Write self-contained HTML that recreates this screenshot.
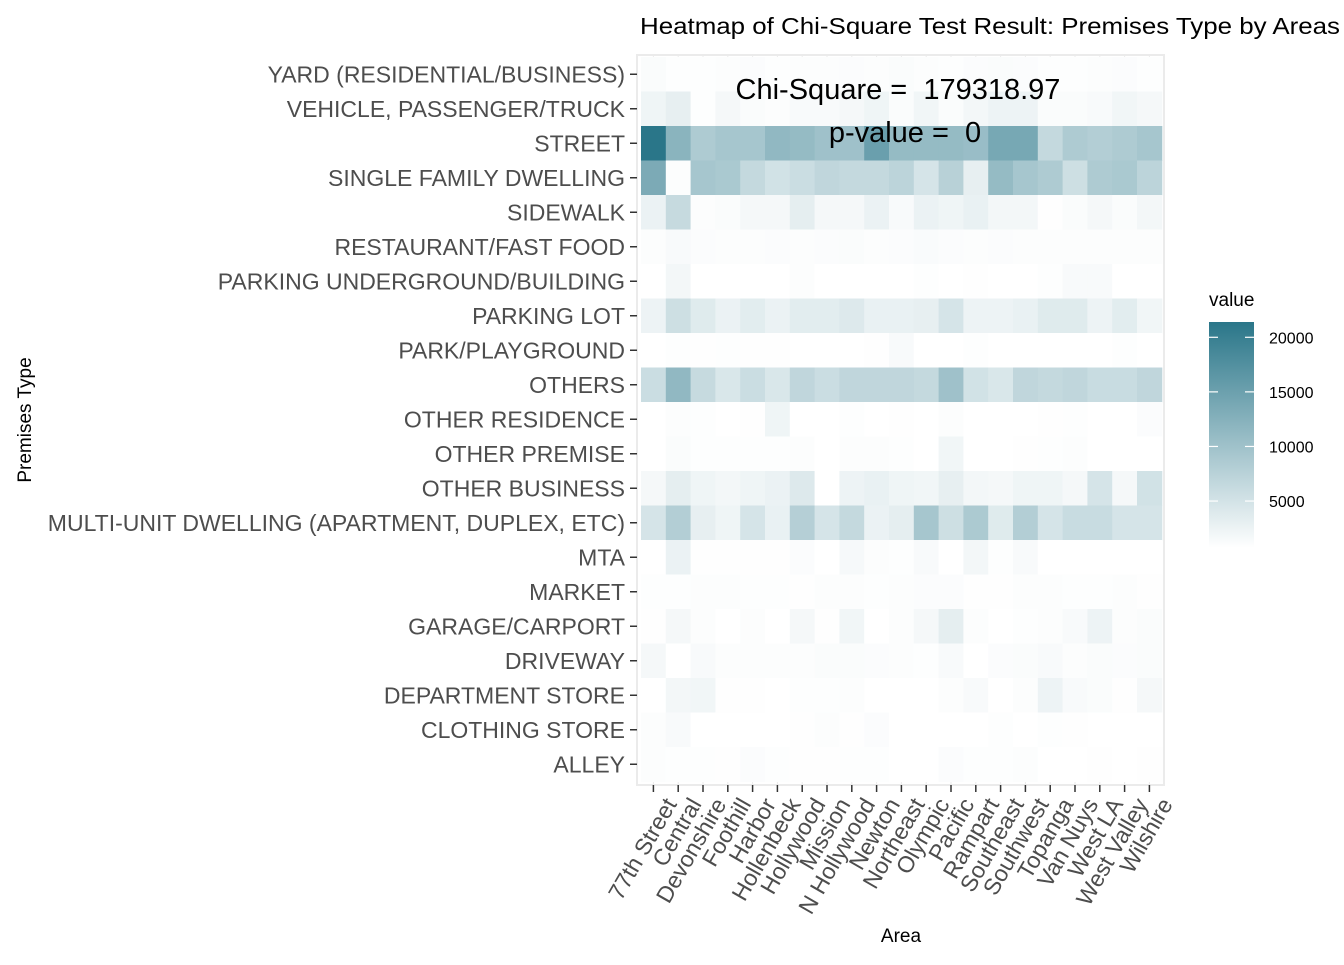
<!DOCTYPE html>
<html><head><meta charset="utf-8"><style>
body{margin:0;background:#fff;}
svg text{font-family:"Liberation Sans",Arial,sans-serif;white-space:pre;}
</style></head><body>
<svg id="chart" width="1344" height="960" viewBox="0 0 1344 960" xmlns="http://www.w3.org/2000/svg">
<defs><linearGradient id="lg" x1="0" y1="1" x2="0" y2="0"><stop offset="0" stop-color="#ffffff"/><stop offset="1" stop-color="#2a7689"/></linearGradient></defs>
<text x="640" y="34" font-size="23.5" fill="#000" textLength="700" lengthAdjust="spacingAndGlyphs">Heatmap of Chi-Square Test Result: Premises Type by Areas</text>
<rect x="637" y="55" width="527" height="730" fill="#fff" stroke="#ebebeb" stroke-width="2"/>
<g id="grid"></g><g id="cells"></g><g id="yaxis"></g><g id="xaxis"></g>
<text x="898" y="99" font-size="29" text-anchor="middle" fill="#000">Chi-Square =&#160; 179318.97</text>
<text x="905" y="142" font-size="29" text-anchor="middle" fill="#000">p-value =&#160; 0</text>
<text x="901" y="942" font-size="19" text-anchor="middle" fill="#000">Area</text>
<text transform="translate(31,420) rotate(-90)" font-size="19" text-anchor="middle" fill="#000">Premises Type</text>
<g>
<text x="1209" y="306" font-size="19" fill="#000">value</text>
<rect x="1209" y="322" width="45" height="226" fill="url(#lg)"/>
<g id="legticks"></g>
</g>
</svg>
<script>
const areas=["77th Street","Central","Devonshire","Foothill","Harbor","Hollenbeck","Hollywood","Mission","N Hollywood","Newton","Northeast","Olympic","Pacific","Rampart","Southeast","Southwest","Topanga","Van Nuys","West LA","West Valley","Wilshire"];
const premises=["YARD (RESIDENTIAL/BUSINESS)","VEHICLE, PASSENGER/TRUCK","STREET","SINGLE FAMILY DWELLING","SIDEWALK","RESTAURANT/FAST FOOD","PARKING UNDERGROUND/BUILDING","PARKING LOT","PARK/PLAYGROUND","OTHERS","OTHER RESIDENCE","OTHER PREMISE","OTHER BUSINESS","MULTI-UNIT DWELLING (APARTMENT, DUPLEX, ETC)","MTA","MARKET","GARAGE/CARPORT","DRIVEWAY","DEPARTMENT STORE","CLOTHING STORE","ALLEY"];
const legendTicks=[5000,10000,15000,20000];
// values in thousands
const v0=[0.6,0.3,0.3,0.4,0.5,0.3,0.4,0.4,0.5,0.4,0.6,0.4,0.3,0.5,0.6,0.5,0.3,0.3,0.4,0.5,0.3];
const v1=[1.7,2.5,0.3,1.1,0.6,0.4,0.8,0.8,1.1,1.7,0.6,1.5,0.6,1.3,1.9,1.9,0.6,0.6,0.8,1.5,1.1];
const v2=[21,11.6,8,8.8,8.8,10.9,10.5,9.5,9.5,14.7,10.5,10.5,10.5,10.1,13.4,13.4,5.9,8,7.6,8,8.8];
const v3=[13,0.4,8.8,8.4,5.9,4.6,5.3,6.3,5.9,5.9,6.7,4.2,7.1,2.5,10.5,8.8,8,5,8,8.4,6.7];
const v4=[2.1,5.7,0.4,0.6,1.1,1.1,2.7,1.1,1.1,2.1,0.8,2.1,1.7,2.3,1.3,1.3,0.2,0.6,1.1,0.6,1.3];
const v5=[0.4,0.8,0.5,0.4,0.4,0.5,0.4,0.5,0.6,0.4,0.5,0.7,0.5,0.4,0.5,0.4,0.4,0.4,0.4,0.4,0.4];
const v6=[0.1,1.3,0.1,0.1,0.1,0.1,0.4,0.1,0.1,0.1,0.1,0.3,0.1,0.2,0.1,0.1,0.3,0.8,0.8,0.1,0.1];
const v7=[1.9,5,3.2,2.1,2.9,2.1,2.9,2.9,3.4,2.3,2.3,2.5,4.2,1.9,1.9,2.3,3.2,3.2,1.9,2.9,1.5];
const v8=[0.1,0.3,0.2,0.3,0.2,0.2,0.1,0.1,0.1,0.2,0.8,0.1,0.1,0.3,0.1,0.1,0.1,0.1,0.1,0.3,0.1];
const v9=[5.3,10.9,5.7,3.8,5.3,3.8,6.3,5.3,6.3,6.3,6.3,5.9,9.5,4.6,3.8,6.3,5.9,6.3,5.5,5.5,6.3];
const v10=[0.1,0.4,0.3,0.1,0.2,1.7,0.1,0.1,0.3,0.1,0.2,0.1,0.4,0.1,0.1,0.1,0.2,0.3,0.1,0.1,0.5];
const v11=[0.1,0.6,0.3,0.3,0.3,0.3,0.4,0.1,0.4,0.4,0.3,0.1,1.5,0.1,0.1,0.2,0.3,0.4,0.1,0.1,0.1];
const v12=[1.1,2.7,1.7,1.3,1.7,2.1,3.4,0.1,1.9,2.3,1.7,1.5,2.5,1.3,1.1,1.7,1.7,1.1,4.2,1.1,4.6];
const v13=[4.2,7.6,2.5,1.7,4.2,2.3,7.4,4.2,5.9,2.1,2.7,8.8,5,8.2,3.2,7.6,4.2,5.5,5.5,4.2,4.2];
const v14=[0.1,2.1,0.2,0.2,0.2,0.2,0.5,0.1,1,0.4,0.3,0.8,0.1,1.3,0.3,0.8,0.1,0.1,0.1,0.1,0.1];
const v15=[0.3,0.3,0.4,0.4,0.3,0.3,0.2,0.4,0.4,0.3,0.4,0.5,0.5,0.2,0.2,0.4,0.4,0.3,0.3,0.4,0.2];
const v16=[0.2,1.1,0.4,0.1,0.4,0.1,1.1,0.2,1.5,0.1,0.4,1.1,2.7,0.4,0.1,0.3,0.4,0.8,1.9,0.4,0.6];
const v17=[1.1,0.1,0.8,0.4,0.4,0.4,0.4,0.6,0.6,0.5,0.4,0.3,0.8,0.1,0.5,0.6,0.8,0.4,0.6,0.5,0.6];
const v18=[0.1,1.3,1.5,0.2,0.2,0.1,0.3,0.3,0.4,0.1,0.1,0.1,0.4,0.8,0.1,0.4,1.9,0.8,0.6,0.2,1.1];
const v19=[0.4,0.8,0.1,0.1,0.1,0.1,0.2,0.4,0.2,0.5,0.1,0.1,0.1,0.1,0.3,0.1,0.3,0.2,0.1,0.1,0.1];
const v20=[0.4,0.3,0.3,0.2,0.5,0.3,0.2,0.2,0.3,0.3,0.1,0.1,0.5,0.3,0.3,0.4,0.1,0.1,0.2,0.1,0.2];
const values=[v0,v1,v2,v3,v4,v5,v6,v7,v8,v9,v10,v11,v12,v13,v14,v15,v16,v17,v18,v19,v20];
const NS="http://www.w3.org/2000/svg";
const X0=641,CW=24.8,Y0=57,RH=34.5;
const xPos=i=>X0+i*CW, yPos=j=>Y0+j*RH;
const vmin=0.1,vmax=21;
function col(v){let t=Math.max(0,Math.min(1,(v-vmin)/(vmax-vmin)));
 const a=[255,255,255],b=[42,118,137];return `rgb(${a.map((c,k)=>Math.round(c+(b[k]-c)*t)).join(',')})`;}
function mk(tag,at,parent){const e=document.createElementNS(NS,tag);for(const k in at)e.setAttribute(k,at[k]);parent.appendChild(e);return e;}
const grid=document.getElementById('grid'),cells=document.getElementById('cells'),ya=document.getElementById('yaxis'),xa=document.getElementById('xaxis');
areas.forEach((a,i)=>{const l=mk('line',{x1:xPos(i)+CW/2,x2:xPos(i)+CW/2,y1:55,y2:785,stroke:'#ebebeb','stroke-width':1},grid);
 });
premises.forEach((p,j)=>{
 values[j].forEach((v,i)=>{const r=mk('rect',{x:xPos(i),y:yPos(j),width:CW+0.5,height:RH+0.5,fill:col(v)},cells);
  });
 const yc=yPos(j)+RH/2;
 const t=mk('line',{x1:630,x2:637,y1:yc,y2:yc,stroke:'#333','stroke-width':1.5},ya);
 
 const tx=mk('text',{x:625,y:yc+8,'font-size':23,'text-anchor':'end',fill:'#4d4d4d'},ya);tx.textContent=p;
 
});
areas.forEach((a,i)=>{const xc=xPos(i)+CW/2;
 const t=mk('line',{x1:xc,x2:xc,y1:785,y2:792,stroke:'#333','stroke-width':1.5},xa);
 
 const tx=mk('text',{transform:`translate(${xc+24},${804}) rotate(-60)`,'font-size':23,'text-anchor':'end',fill:'#4d4d4d'},xa);tx.textContent=a;
 
});
const lg=document.getElementById('legticks');
const ly=v=>548-(v/1000-0.7)*(226/20.7);
legendTicks.forEach(v=>{const y=ly(v);
 const a=mk('line',{x1:1209,x2:1218,y1:y,y2:y,stroke:'#fff','stroke-width':1.2},lg);
 
 const b=mk('line',{x1:1245,x2:1254,y1:y,y2:y,stroke:'#fff','stroke-width':1.2},lg);
 
 const t=mk('text',{x:1269,y:y+6,'font-size':16,fill:'#000'},lg);t.textContent=v;
 
});
</script>
</body></html>
